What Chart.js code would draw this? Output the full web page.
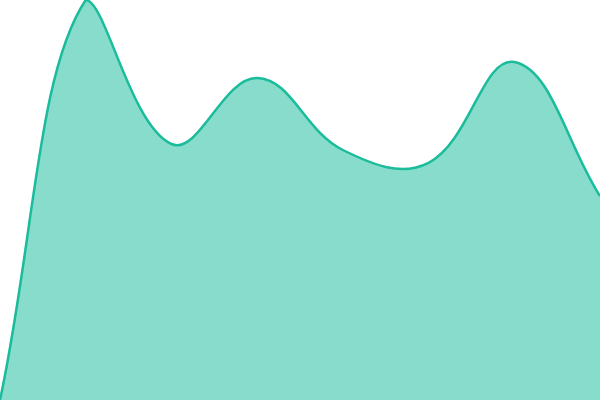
<!DOCTYPE html>
<html>
<head>
<meta charset="utf-8">
<style>
  html, body { margin: 0; padding: 0; background: #fff; }
  .wrap { width: 600px; height: 400px; }
</style>
<script src="https://cdn.jsdelivr.net/npm/chart.js@4"></script>
</head>
<body>
<div class="wrap"><canvas id="areaChart"></canvas></div>
<script>
// Data
const categories = ['1', '2', '3', '4', '5', '6', '7', '8'];
const values = [0, 100, 64, 80.5, 62.5, 59.3, 84.5, 51];
const yMin = 0;
const yMax = 100;

const ctx = document.getElementById('areaChart').getContext('2d');

new Chart(ctx, {
  type: 'line',
  data: {
    labels: categories,
    datasets: [{
      data: values,
      fill: 'origin',
      backgroundColor: 'rgba(26, 188, 156, 0.52)',
      borderColor: '#1abc9c',
      borderWidth: 2.5,
      tension: 0.4,
      pointRadius: 0
    }]
  },
  options: {
    responsive: true,
    maintainAspectRatio: false,
    animation: false,
    layout: { padding: 0 },
    scales: {
      x: { display: false, offset: false },
      y: { display: false, min: yMin, max: yMax }
    },
    plugins: {
      legend: { display: false },
      tooltip: { enabled: false }
    }
  }
});
</script>
</body>
</html>
